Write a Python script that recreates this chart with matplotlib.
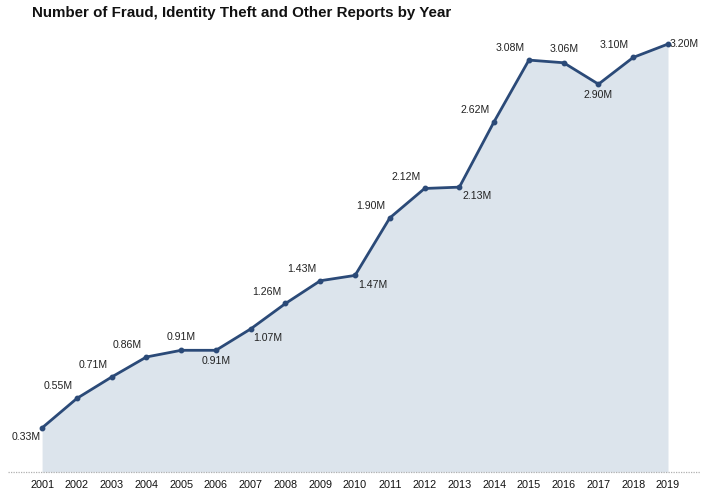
import matplotlib
matplotlib.use("Agg")
import matplotlib.pyplot as plt

years = list(range(2001, 2020))
reports_m = [0.33, 0.55, 0.71, 0.86, 0.91, 0.91, 1.07, 1.26, 1.43, 1.47,
             1.90, 2.12, 2.13, 2.62, 3.08, 3.06, 2.90, 3.10, 3.20]
labels = [f"{v:.2f}M" for v in reports_m]
# label placement: 'al' above-left, 'a' above, 'b' below, 'br' below-right, 'bl' below-left, 'r' right
placement = ['bl', 'al', 'al', 'al', 'a', 'b', 'br', 'al', 'al', 'br',
             'al', 'al', 'br', 'al', 'al', 'a', 'b', 'al', 'r']

W, H = 705, 497
fig = plt.figure(figsize=(W / 100, H / 100), dpi=100)
x0, x1 = 8, 700
y_bot, y_top = 472, 32
ax = fig.add_axes([x0 / W, (H - y_bot) / H, (x1 - x0) / W, (y_bot - y_top) / H])

line_c = '#2b4a78'
fill_c = '#dce4ec'
txt_c = '#222222'

ax.fill_between(years, reports_m, 0, color=fill_c, lw=0, zorder=1)
ax.plot(years, reports_m, color=line_c, lw=2.0, marker='o', ms=3.2, zorder=3)

ax.set_xlim(2000.02, 2019.92)
ax.set_ylim(0, 3.29)
ax.axhline(0, color='#b0b0b0', lw=0.9, ls=(0, (1, 1)), zorder=2, clip_on=False)

offs = {'al': ((-3, 5), 'right', 'bottom'),
        'a': ((0, 6), 'center', 'bottom'),
        'b': ((0, -4), 'center', 'top'),
        'br': ((2, -3), 'left', 'top'),
        'bl': ((-1, -3), 'right', 'top'),
        'r': ((1, 0), 'left', 'center')}
for x, y, lab, p in zip(years, reports_m, labels, placement):
    (dx, dy), ha, va = offs[p]
    ax.annotate(lab, (x, y), xytext=(dx, dy), textcoords='offset points',
                ha=ha, va=va, fontsize=7.6, color=txt_c,
                family=['Liberation Sans', 'DejaVu Sans'], zorder=4)

ax.set_xticks(years)
ax.set_xticklabels([str(y) for y in years], fontsize=7.8, color='#111111',
                   family=['Liberation Sans', 'DejaVu Sans'])
ax.tick_params(axis='x', length=0, pad=5.5)
ax.set_yticks([])
for s in ax.spines.values():
    s.set_visible(False)

fig.text(32 / W, 1 - 13 / H, "Number of Fraud, Identity Theft and Other Reports by Year",
         fontsize=10.9, fontweight='bold', color='#111111', va='center', ha='left',
         family=['Liberation Sans', 'DejaVu Sans'])

fig.savefig('out.png', dpi=100)
